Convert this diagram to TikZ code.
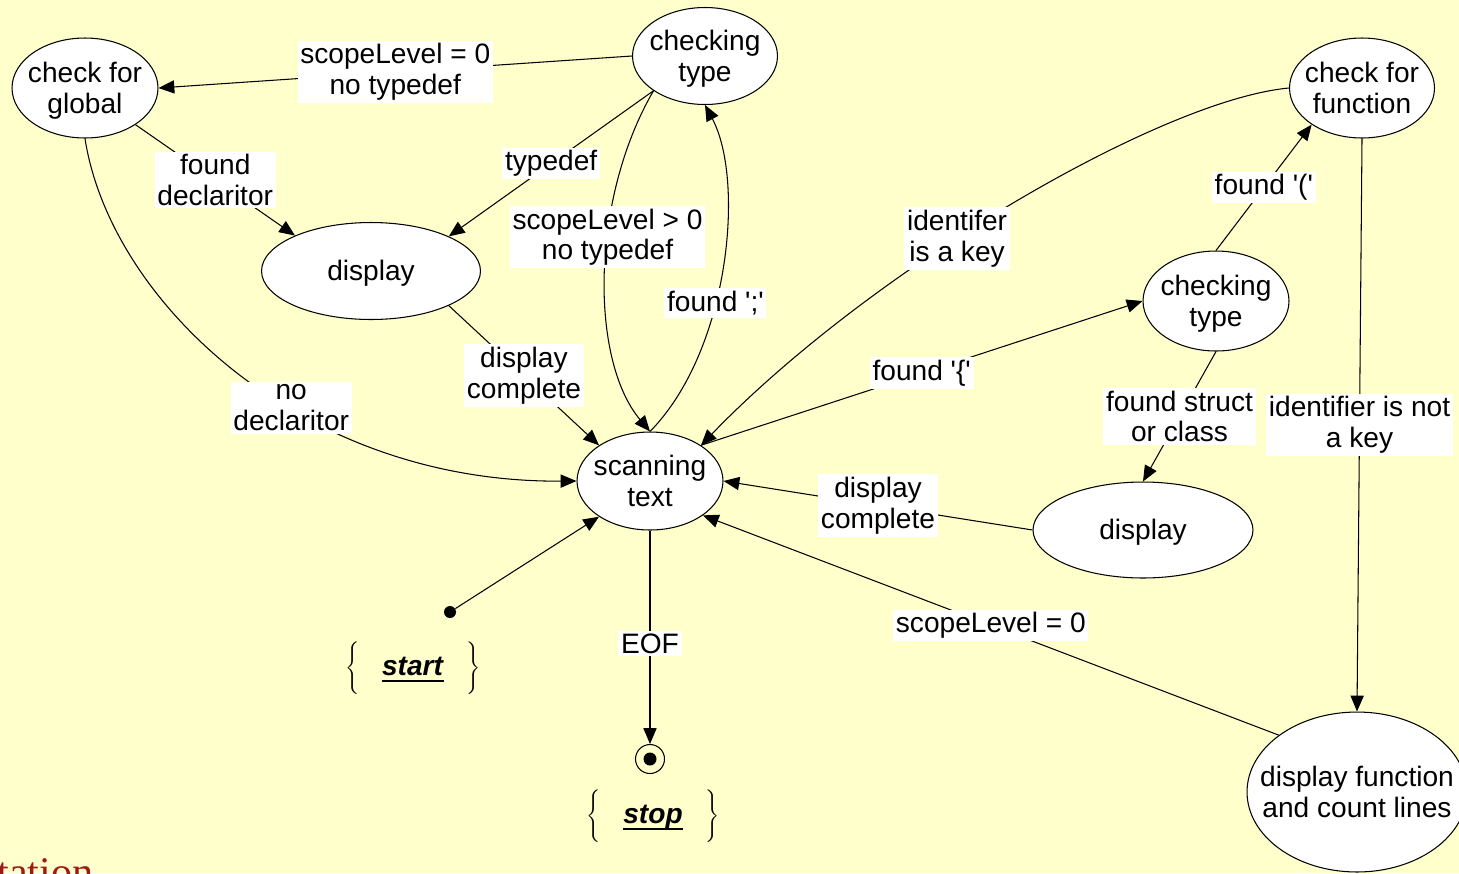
\documentclass[tikz,border=0pt]{standalone}
\usepackage{fontspec}
\setmainfont{Liberation Sans}
\newfontfamily\serifface{Liberation Serif}
\usepackage{xcolor}
\usetikzlibrary{shapes.geometric, arrows.meta}
\definecolor{slidebg}{HTML}{FFFFCC}
\definecolor{slidered}{HTML}{A01818}
\newcommand{\stxt}[1]{\makebox[0pt]{\raisebox{-6.3pt}[0pt][0pt]{\begin{tabular}{@{}c@{}}#1\end{tabular}}}}
\newcommand{\ulword}[1]{\setbox0\hbox{#1}\rlap{\rule[-4pt]{\wd0}{1.6pt}}\box0}
\newcommand{\brtxt}[1]{$\left\{\vrule height 12pt depth 12pt width 0pt\hspace{13pt}\mbox{\ulword{\textbf{\textit{#1}}}}\hspace{13pt}\right\}$}

\begin{document}
\begin{tikzpicture}[
  x=0.02cm, y=-0.02cm,
  font=\fontsize{16}{17.5}\selectfont,
  state/.style={ellipse, draw=black, fill=white, line width=0.6pt, inner sep=0pt},
  lbl/.style={fill=white, inner sep=1.5pt, align=center},
  dot/.style={circle, fill=black, inner sep=0pt, minimum size=0.24cm},
  ring/.style={circle, draw=black, line width=0.6pt, inner sep=0pt, minimum size=0.58cm},
  arr/.style={-{Triangle[length=9pt,width=7.5pt]}, line width=0.6pt}
]
  \useasboundingbox (0,0) rectangle (1459,873);
  \clip (0,0) rectangle (1459,873);
  \fill[slidebg] (0,0) rectangle (1459,873);

  \node[state, minimum width=2.92cm, minimum height=2.0cm] (G) at (85,88) {\stxt{check for\\global}};
  \node[state, minimum width=2.9cm, minimum height=1.94cm] (CT) at (705,56) {\stxt{checking\\type}};
  \node[state, minimum width=4.38cm, minimum height=1.94cm] (D1) at (371,271) {\stxt{display}};
  \node[state, minimum width=2.92cm, minimum height=1.96cm] (S) at (650,481) {\stxt{scanning\\text}};
  \node[state, minimum width=2.9cm, minimum height=2.0cm] (F) at (1362,88) {\stxt{check for\\function}};
  \node[state, minimum width=2.92cm, minimum height=2.0cm] (CT2) at (1216,301) {\stxt{checking\\type}};
  \node[state, minimum width=4.4cm, minimum height=1.92cm] (D2) at (1143,530) {\stxt{display}};
  \node[state, minimum width=4.4cm, minimum height=3.2cm] (DF) at (1357,792) {\stxt{display function\\and count lines}};

  \node[dot] (B) at (450,612) {};
  \node[ring] (E) at (650,759) {};
  \node[dot, minimum size=0.26cm] (Ed) at (E) {};
  \node (Bl) at (413,669) {\brtxt{start}};
  \node (El) at (653,817) {\brtxt{stop}};
  \node[anchor=base west, inner sep=0pt, text=slidered, font=\serifface\fontsize{24}{24}\selectfont] (T) at (-3,886) {tation};

  \draw[arr] (CT.west) -- node[lbl] (e1) {scopeLevel = 0\\no typedef} (G.east);
  \draw[arr] (CT.214) -- node[lbl] (e2) {typedef} (D1.24);
  \draw[arr] (CT.214) .. controls (590,200) and (590,360) .. node[lbl, pos=0.4] (e3) {scopeLevel > 0\\no typedef} (S.north);
  \draw[arr] (S.north) .. controls (730,350) and (745,180) .. node[lbl, pos=0.4] (e4) {found \textquotesingle;\textquotesingle} (CT.south);
  \draw[arr] (G.-36) -- node[lbl] (e5) {found\\declaritor} (D1.155);
  \draw[arr] (G.south) .. controls (110,300) and (300,483) .. node[lbl, pos=0.6] (e6) {no\\declaritor} (S.west);
  \draw[arr] (D1.-24) -- node[lbl] (e7) {display\\complete} (S.145);
  \draw[arr] (B) -- (S.215);
  \draw[arr] (S.south) -- node[lbl, pos=0.53] (e8) {EOF} (E.north);
  \draw[arr] (F.west) .. controls (1160,100) and (870,270) .. node[lbl, pos=0.58] (e9) {identifer\\is a key} (S.35);
  \draw[arr] (S.35) -- node[lbl] (e10) {found \textquotesingle\{\textquotesingle} (CT2.west);
  \draw[arr] (CT2.north) -- node[lbl] (e11) {found \textquotesingle(\textquotesingle} (F.216);
  \draw[arr] (CT2.south) -- node[lbl] (e12) {found struct\\or class} (D2.north);
  \draw[arr] (D2.west) -- node[lbl] (e13) {display\\complete} (S.east);
  \draw[arr] (F.south) -- node[lbl] (e14) {identifier is not\\a key} (DF.north);
  \draw[arr] (DF.144) -- node[lbl] (e15) {scopeLevel = 0} (S.-33);
\end{tikzpicture}
\end{document}
